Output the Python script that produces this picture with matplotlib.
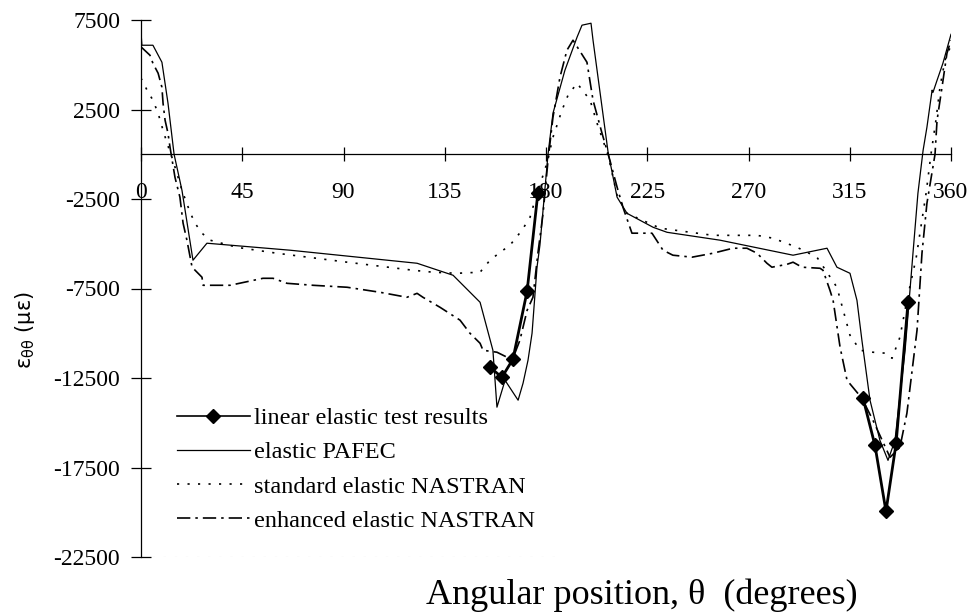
import numpy as np
import matplotlib
matplotlib.use('Agg')
import matplotlib.pyplot as plt
from matplotlib.lines import Line2D

plt.rcParams['font.family'] = ['Liberation Serif', 'DejaVu Serif']
plt.rcParams['axes.unicode_minus'] = False

# linear elastic test results (diamonds)
test1_deg = [155.1, 160.4, 165.3, 171.6, 176.4]
test1_val = [-11900, -12460, -11450, -7650, -2150]
test2_deg = [320.9, 326.2, 331.1, 335.6, 340.9]
test2_val = [-13630, -16260, -19950, -16150, -8270]

# elastic PAFEC
pafec_deg = [0, 0.4, 5.3, 9.3, 12.0, 14.7, 18.2, 23.1, 29.3, 66.2, 122.7, 138.7,
             150.7, 156.4, 158.2, 161.8, 167.6, 169.8, 172.0, 173.8, 176.0, 177.3,
             180.9, 183.1, 188.4, 193.8, 196.0, 200.0, 200.9, 207.6, 211.6, 216.0,
             227.6, 233.8, 257.3, 289.8, 304.9, 309.3, 315.1, 318.2, 320.4, 324.0,
             328.4, 332.0, 335.1, 339.6, 343.1, 345.3, 347.6, 349.3, 351.6, 352.0,
             353.8, 356.4, 360]
pafec_val = [6820, 6090, 6090, 5140, 2850, 0, -2010, -5920, -4970, -5360, -6090, -6760,
             -8270, -10950, -14130, -12630, -13740, -12790, -11510, -10000, -6310, -5080,
             0, 2290, 4690, 6540, 7210, 7320, 6370, 110, -2400, -3300,
             -4080, -4360, -4800, -5640, -5250, -6310, -6650, -8160, -10390, -13740,
             -15980, -17100, -15980, -10950, -5530, -2180, 220, 1510, 3580, 3460,
             4130, 5080, 6700]

# standard elastic NASTRAN
std_deg = [0, 2.7, 5.3, 7.6, 9.8, 11.6, 14.2, 18.2, 21.8, 24.0, 27.1, 30.7, 42.7,
           60.4, 91.6, 120.9, 129.8, 140.4, 150.7, 155.1, 159.6, 164.0, 169.3, 172.9,
           175.1, 180.4, 183.1, 187.1, 189.8, 193.8, 199.6, 202.7, 207.6, 211.6, 216.0,
           230.7, 254.2, 273.8, 280.9, 291.6, 300.4, 309.3, 315.1, 319.6, 325.3, 331.6,
           333.8, 337.3, 340.4, 344.5, 348.9, 351.1, 353.3, 355.1, 357.3, 360]
std_val = [4250, 3580, 3020, 2290, 1340, 610, -340, -2010, -3240, -3850, -4410, -4800, -5200,
           -5530, -6030, -6480, -6590, -6650, -6590, -5920, -5480, -5080, -4250, -3520,
           -2570, -500, 950, 2460, 3300, 3970, 3020, 1730, -60, -2290, -3300,
           -4130, -4530, -4530, -4690, -5200, -5750, -7430, -10110, -10950, -11060, -11120,
           -11400, -10220, -8160, -5800, -2200, 0, 1900, 3740, 5250, 6090]

# enhanced elastic NASTRAN
enh_deg = [0, 4.0, 5.3, 7.6, 9.3, 9.8, 10.7, 12.0, 12.9, 15.1, 17.3, 18.7, 20.4, 22.7,
           27.1, 27.6, 39.6, 54.2, 58.7, 64.9, 76.4, 91.6, 106.2, 118.2, 122.7, 125.3,
           132.9, 141.8, 146.2, 150.7, 152.0, 158.2, 162.7, 165.3, 168.4, 171.6, 174.2,
           176.4, 178.7, 180.9, 183.1, 186.2, 189.3, 192.0, 198.2, 200.9, 204.9, 208.4,
           211.6, 214.2, 218.2, 227.1, 232.0, 236.4, 244.9, 254.2, 263.1, 269.3, 273.8,
           278.2, 280.4, 287.1, 289.8, 293.8, 301.8, 303.1, 306.2, 307.6, 310.7, 313.8,
           320.4, 325.3, 332.9, 337.3, 340.4, 344.9, 347.1, 349.3, 352.9, 353.8, 356.0,
           358.2, 360]
enh_val = [6000, 5530, 5080, 4530, 3740, 2850, 1900, 1170, 390, -1290, -2400, -3850, -4800, -6310,
           -6870, -7320, -7320, -6930, -6930, -7210, -7320, -7430, -7710, -7990, -7770, -7990,
           -8550, -9270, -10000, -10560, -10950, -11060, -11340, -11400, -10390, -8720, -7990,
           -5530, -3300, -340, 2070, 4300, 5810, 6370, 5140, 3020, 1170, -340,
           -1840, -2960, -4410, -4410, -5360, -5640, -5750, -5530, -5250, -5250, -5530,
           -6090, -6310, -6150, -6030, -6310, -6370, -6480, -7600, -8160, -10780, -12630,
           -13630, -14860, -16930, -16370, -14470, -9830, -5530, -2740, 0, 1900, 3740,
           5640, 6370]

x_ticks = [0, 45, 90, 135, 180, 225, 270, 315, 360]
y_ticks = [7500, 2500, -2500, -7500, -12500, -17500, -22500]

fig = plt.figure(figsize=(9.74, 6.16), dpi=100)
ax = fig.add_axes([141 / 974, 59 / 616, 810 / 974, 537 / 616])

dotted = (0, (1.3, 5))
dashdot = (0, (8, 3, 1.5, 3))
ax.plot(test1_deg, test1_val, color='black', lw=2.0, marker='D', markersize=7.5)
ax.plot(test2_deg, test2_val, color='black', lw=2.0, marker='D', markersize=7.5)
ax.plot(pafec_deg, pafec_val, color='black', lw=0.9)
ax.plot(std_deg, std_val, color='black', lw=1.2, ls=dotted)
ax.plot(enh_deg, enh_val, color='black', lw=1.2, ls=dashdot)

# faint line along the bottom of the plot
ax.axhline(-22500, xmax=0.52, color='0.75', lw=0.8, ls=(0, (2, 8)))

ax.set_xlim(0, 360)
ax.set_ylim(-22500, 7500)
ax.spines['top'].set_visible(False)
ax.spines['right'].set_visible(False)
ax.spines['bottom'].set_position(('data', 0))
ax.spines['left'].set_position(('data', 0))
ax.spines['bottom'].set_linewidth(0.9)
ax.spines['left'].set_linewidth(0.9)

ax.set_xticks(x_ticks)
ax.set_yticks(y_ticks)
ax.set_yticklabels([str(v) for v in y_ticks])
ax.tick_params(axis='x', direction='inout', length=10, width=0.9, pad=15, labelsize=17)
ax.tick_params(axis='y', direction='inout', length=14, width=0.9, pad=8, labelsize=17)

handles = [
    Line2D([], [], color='black', lw=1.2, marker='D', markersize=7.5),
    Line2D([], [], color='black', lw=0.9),
    Line2D([], [], color='black', lw=1.2, ls=dotted),
    Line2D([], [], color='black', lw=1.2, ls=dashdot),
]
labels = ['linear elastic test results', 'elastic PAFEC',
          'standard elastic NASTRAN', 'enhanced elastic NASTRAN']
leg = ax.legend(handles, labels, loc='upper left',
                bbox_to_anchor=(0.044, 0.279), frameon=False, fontsize=17.5,
                handlelength=3.0, handletextpad=0.2, labelspacing=0.5,
                borderpad=0, borderaxespad=0, numpoints=1)

fig.text(25 / 974, 1 - 330 / 616, r'ε$_{\mathrm{θθ}}$ (με)',
         rotation=90, ha='center', va='center', fontsize=15, family='DejaVu Sans')
fig.text(642 / 974, 1 - 595 / 616, 'Angular position, θ  (degrees)',
         ha='center', va='center', fontsize=26)

fig.savefig('out.png', dpi=100)
